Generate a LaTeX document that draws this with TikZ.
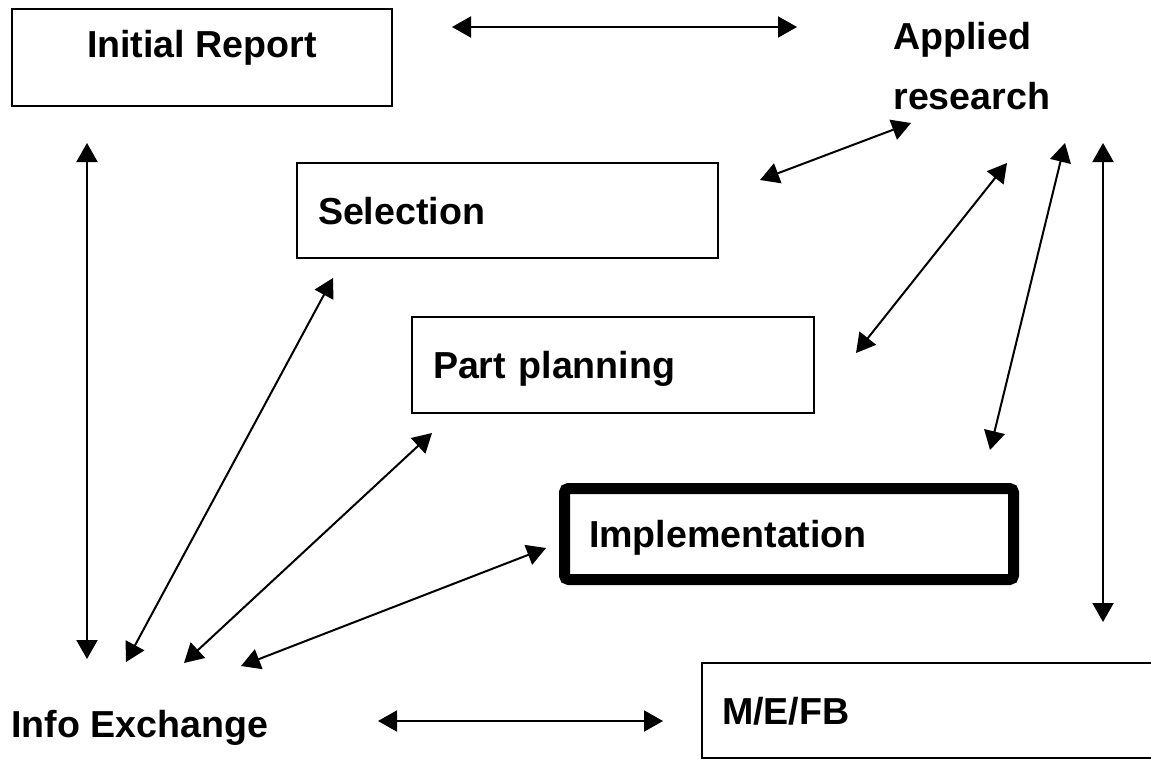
\documentclass[tikz,border=0pt]{standalone}
\usepackage{fontspec}
\setmainfont{Liberation Sans}
\usetikzlibrary{arrows.meta}
\tikzset{>={Triangle[length=9.5pt,width=10.5pt]}}
\tikzset{
    box/.style={draw, line width=0.8pt, anchor=north west, outer sep=0pt,
        inner xsep=10.5pt, align=left, text height=13.5pt, text depth=0pt,
        font=\bfseries\fontsize{18.8}{22}\selectfont},
    lbl/.style={inner sep=0pt, align=left, font=\bfseries\fontsize{18.8}{30}\selectfont},
    dbl/.style={<->, line width=1pt}
}

\begin{document}
\begin{tikzpicture}[x=0.5pt,y=-0.5pt]
    \useasboundingbox (0,0) rectangle (1151,760);
    % stages
    \node[box, minimum width=190pt, minimum height=48.5pt, align=center,
        text height=8pt, text depth=8pt] at (12,9) (init) {Initial Report};
    \node[box, text width=189.5pt, minimum height=47.5pt] at (297,163) (sel) {Selection};
    \node[box, text width=180pt, minimum height=48pt] at (412,317) (part) {Part planning};
    \node[box, line width=5.5pt, rounded corners=2pt, inner xsep=12.25pt,
        text width=200pt, minimum height=45.5pt] at (564.5,488.5) (impl) {Implementation};
    \node[box, inner xsep=10pt, text width=214pt, minimum height=47.5pt] at (702,663) (mefb) {M/E/FB};
    \node[lbl, anchor=base west] at (893,109) (app) {Applied\\research};
    \node[lbl, anchor=base west] at (11,737) (info) {Info Exchange};
    % arrow ends
    \coordinate (initE) at (452,27);
    \coordinate (appW) at (797,27);
    \coordinate (selE) at (760,180);
    \coordinate (appS1) at (911,123);
    \coordinate (partE) at (856,353);
    \coordinate (appS2) at (1007,163);
    \coordinate (implN) at (990,450);
    \coordinate (appS3) at (1065,143);
    \coordinate (appS4) at (1103,143);
    \coordinate (mefbN) at (1103,622);
    \coordinate (initS) at (87,143);
    \coordinate (infoN1) at (87,659);
    \coordinate (selS) at (333,278);
    \coordinate (infoN2) at (126,662);
    \coordinate (partS) at (432,433);
    \coordinate (infoN3) at (184,663);
    \coordinate (implW) at (546,548);
    \coordinate (infoN4) at (241,666);
    \coordinate (infoE) at (378,721);
    \coordinate (mefbW) at (663,721);
    \path[dbl]
    (initE) edge (appW)
    (selE) edge (appS1)
    (partE) edge (appS2)
    (implN) edge (appS3)
    (mefbN) edge (appS4)
    (initS) edge (infoN1)
    (selS) edge (infoN2)
    (partS) edge (infoN3)
    (implW) edge (infoN4)
    (infoE) edge (mefbW)
    ;
\end{tikzpicture}
\end{document}
